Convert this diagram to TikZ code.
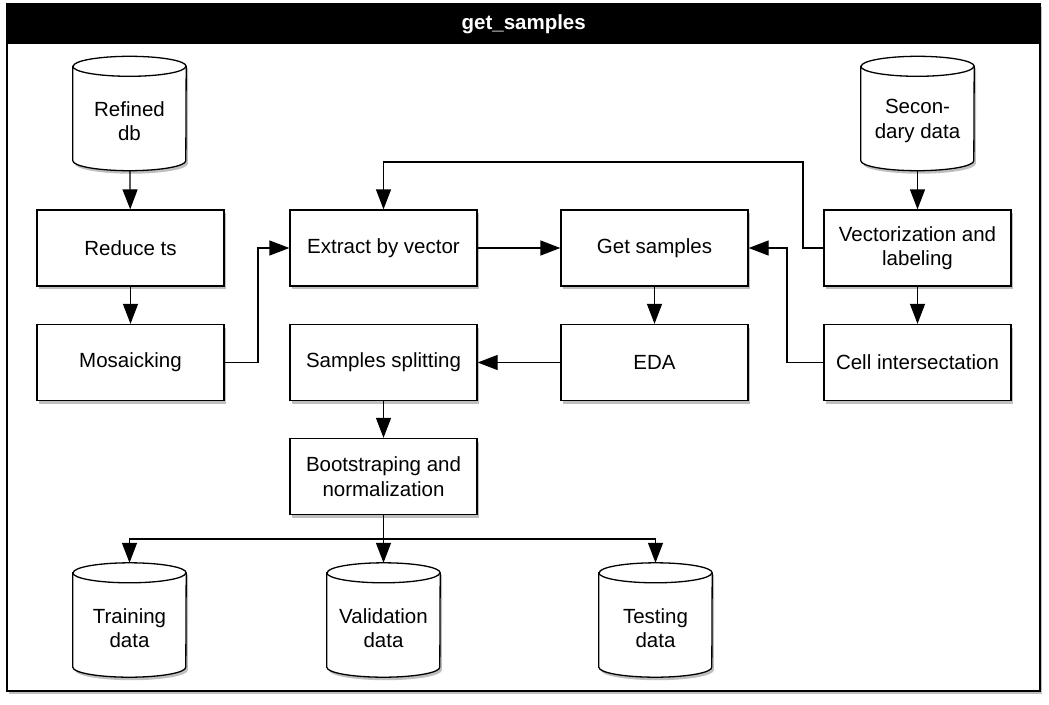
\documentclass[tikz,border=0pt]{standalone}
\usepackage{fontspec}
\setmainfont{Liberation Sans}
\usetikzlibrary{arrows.meta,shadows,calc}
\tikzset{
  shade/.style={drop shadow={shadow xshift=2pt,shadow yshift=-3pt,fill=black,opacity=0.25}},
  procbox/.style={draw=black,line width=1.3pt,fill=white,minimum width=187pt,minimum height=76pt,
     align=center,font=\fontsize{20.5}{24.5}\selectfont,inner sep=0pt,shade},
  cylnode/.style={minimum width=113pt,minimum height=114pt,inner sep=0pt,align=center,
     font=\fontsize{20.5}{24.5}\selectfont},
  conn/.style={line width=1.3pt,-{Triangle[length=20pt,width=15pt]}},
}
\newcommand\dbdraw[1]{%
  \path[fill=white,draw=black,line width=1.3pt,shade]
    ([yshift=-10pt]#1.north west) -- ([yshift=10pt]#1.south west)
    arc[start angle=180,end angle=360,x radius=56.5pt,y radius=10pt]
    -- ([yshift=-10pt]#1.north east)
    arc[start angle=0,end angle=180,x radius=56.5pt,y radius=10pt] -- cycle;
  \draw[line width=1.3pt] ([yshift=-10pt]#1.north west)
    arc[start angle=180,end angle=360,x radius=56.5pt,y radius=10pt];
}
\begin{document}
\begin{tikzpicture}[x=1pt,y=-1pt]
\useasboundingbox (0,0) rectangle (1049,704);
% frame
\path[draw=black,line width=2pt,fill=white,shade] (7,4) rectangle (1040,691);
\node[fill=black,minimum width=1033pt,minimum height=40pt,inner sep=0pt,anchor=north west,
  text=white,font=\fontsize{20.5}{24}\selectfont\bfseries] (title) at (7,4) {get\_samples};
\draw[line width=2pt] (7,4) rectangle (1040,691);

% cylinders (shape nodes)
\node[cylnode] (refined) at (129.5,113.5) {};
\node[cylnode] (secondary) at (917.5,113.5) {};
\node[cylnode] (training) at (129.5,620) {};
\node[cylnode] (validation) at (383.5,620) {};
\node[cylnode] (testing) at (655.5,620) {};
\dbdraw{refined}\dbdraw{secondary}\dbdraw{training}\dbdraw{validation}\dbdraw{testing}
\node[cylnode] (refinedtxt) at (129.5,121) {Refined\\db};
\node[cylnode] (secondarytxt) at (917.5,121) {Secon-\\dary data};
\node[cylnode] (trainingtxt) at (129.5,628) {Training\\data};
\node[cylnode] (validationtxt) at (383.5,628) {Validation\\data};
\node[cylnode] (testingtxt) at (655.5,628) {Testing\\data};

% boxes
\node[procbox] (reduce) at (130.5,248) {Reduce ts};
\node[procbox] (mosaic) at (130.5,362.5) {Mosaicking};
\node[procbox] (extract) at (383.5,248) {Extract by vector};
\node[procbox] (getsamples) at (654.5,248) {Get samples};
\node[procbox] (vector) at (917.5,248) {Vectorization and\\labeling};
\node[procbox] (split) at (383.5,362.5) {Samples splitting};
\node[procbox] (eda) at (654.5,362.5) {EDA};
\node[procbox] (cell) at (917.5,362.5) {Cell intersectation};
\node[procbox] (boot) at (383.5,476.5) {Bootstraping and\\normalization};

% helper coordinates
\coordinate (m1) at (258,362.5);
\coordinate (t1) at (803,162);
\coordinate (t2) at (787,362.5);
\coordinate (sp) at (383.5,539);

% connectors
\draw[conn] (refined) -- (reduce);
\draw[conn] (reduce) -- (mosaic);
\draw[conn] (mosaic.east) -- (m1) |- (extract.west);
\draw[conn] (extract) -- (getsamples);
\draw[conn] (vector.west) -| (t1) -| (extract.north);
\draw[conn] (cell.west) -- (t2) |- (getsamples.east);
\draw[conn] (secondary) -- (vector);
\draw[conn] (vector) -- (cell);
\draw[conn] (getsamples) -- (eda);
\draw[conn] (eda) -- (split);
\draw[conn] (split) -- (boot);
\draw[conn] (boot) -- (validation.north);
\draw[conn] (sp) -| (training.north);
\draw[conn] (sp) -| (testing.north);
\end{tikzpicture}
\end{document}
